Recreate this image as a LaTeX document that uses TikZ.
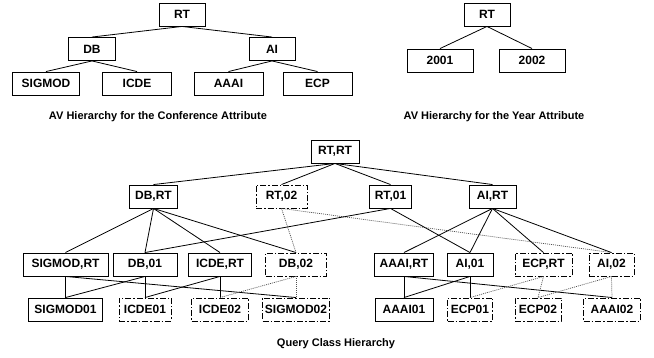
\documentclass[tikz,border=0pt]{standalone}
\usepackage{fontspec}
\setmainfont{Liberation Sans}
\usepackage{tikz}
\definecolor{dotgray}{RGB}{80,80,80}

\begin{document}
\begin{tikzpicture}[x=1pt,y=-1pt,
  box/.style={draw,line width=0.9pt,minimum height=23pt,inner sep=0pt,font=\fontsize{12}{14}\selectfont\bfseries},
  newbox/.style={box,dash pattern=on 6pt off 2pt on 1.5pt off 2pt},
  link/.style={line width=0.8pt},
  newlink/.style={line width=0.7pt,dotgray,dash pattern=on 1pt off 1pt},
  caption/.style={font=\fontsize{11}{13}\selectfont\bfseries}]
\useasboundingbox (0,0) rectangle (654,358);

\node[box,minimum width=46pt] (cRT) at (182,14.5) {RT};
\node[box,minimum width=47pt] (cDB) at (92,49) {DB};
\node[box,minimum width=46pt] (cAI) at (272,49) {AI};
\node[box,minimum width=67pt] (cSIGMOD) at (46,83.5) {SIGMOD};
\node[box,minimum width=69pt] (cICDE) at (137,83.5) {ICDE};
\node[box,minimum width=69pt] (cAAAI) at (228.5,83.5) {AAAI};
\node[box,minimum width=69pt] (cECP) at (317.5,83.5) {ECP};
\draw[link] (cRT.south) -- (cDB.north);
\draw[link] (cRT.south) -- (cAI.north);
\draw[link] (cDB.south) -- (cSIGMOD.north);
\draw[link] (cDB.south) -- (cICDE.north);
\draw[link] (cAI.south) -- (cAAAI.north);
\draw[link] (cAI.south) -- (cECP.north);
\node[caption] (ccap) at (158,117) {AV Hierarchy for the Conference Attribute};

\node[box,minimum width=46pt] (yRT) at (487,14.5) {RT};
\node[box,minimum width=66pt] (y2001) at (440,60.5) {2001};
\node[box,minimum width=66pt] (y2002) at (532,60.5) {2002};
\draw[link] (yRT.south) -- (y2001.north);
\draw[link] (yRT.south) -- (y2002.north);
\node[caption] (ycap) at (494,117) {AV Hierarchy for the Year Attribute};

\node[box,minimum width=48pt] (RTRT) at (335,151.5) {RT,RT};

\node[box,minimum width=48pt] (DBRT) at (153.5,196.5) {DB,RT};
\node[newbox,minimum width=51pt] (RT02) at (281.5,196.5) {RT,02};
\node[box,minimum width=42pt] (RT01) at (390.5,196.5) {RT,01};
\node[box,minimum width=47pt] (AIRT) at (492.5,196.5) {AI,RT};

\node[box,minimum width=85pt] (SIGMODRT) at (65.5,264.5) {SIGMOD,RT};
\node[box,minimum width=64pt] (DB01) at (145,264.5) {DB,01};
\node[box,minimum width=63pt] (ICDERT) at (220,264.5) {ICDE,RT};
\node[newbox,minimum width=61pt] (DB02) at (296,264.5) {DB,02};
\node[box,minimum width=59pt] (AAAIRT) at (404,264.5) {AAAI,RT};
\node[box,minimum width=46pt] (AI01) at (470,264.5) {AI,01};
\node[newbox,minimum width=57pt] (ECPRT) at (543.5,264.5) {ECP,RT};
\node[newbox,minimum width=45pt] (AI02) at (611.5,264.5) {AI,02};

\node[box,minimum width=74pt] (SIGMOD01) at (65.5,309.5) {SIGMOD01};
\node[newbox,minimum width=52pt] (ICDE01) at (145,309.5) {ICDE01};
\node[newbox,minimum width=57pt] (ICDE02) at (220,309.5) {ICDE02};
\node[newbox,minimum width=67pt] (SIGMOD02) at (296,309.5) {SIGMOD02};
\node[box,minimum width=58pt] (AAAI01) at (404,309.5) {AAAI01};
\node[newbox,minimum width=45pt] (ECP01) at (470,309.5) {ECP01};
\node[newbox,minimum width=46pt] (ECP02) at (538,309.5) {ECP02};
\node[newbox,minimum width=57pt] (AAAI02) at (612,309.5) {AAAI02};

\draw[link] (RTRT.south) -- (DBRT.north);
\draw[link] (RTRT.south) -- (RT02.north);
\draw[link] (RTRT.south) -- (RT01.north);
\draw[link] (RTRT.south) -- (AIRT.north);

\draw[link] (DBRT.south) -- (SIGMODRT.north);
\draw[link] (DBRT.south) -- (DB01.north);
\draw[link] (DBRT.south) -- (ICDERT.north);
\draw[link] (DBRT.south) -- (DB02.north);
\draw[newlink] (RT02.south) -- (DB02.north);
\draw[newlink] (RT02.south) -- (AI02.north);
\draw[link] (RT01.south) -- (DB01.north);
\draw[link] (RT01.south) -- (AI01.north);
\draw[link] (AIRT.south) -- (AAAIRT.north);
\draw[link] (AIRT.south) -- (AI01.north);
\draw[link] (AIRT.south) -- (ECPRT.north);
\draw[link] (AIRT.south) -- (AI02.north);

\draw[link] (SIGMODRT.south) -- (SIGMOD01.north);
\draw[link] (SIGMODRT.south) -- (SIGMOD02.north);
\draw[link] (DB01.south) -- (SIGMOD01.north);
\draw[link] (DB01.south) -- (ICDE01.north);
\draw[link] (ICDERT.south) -- (ICDE01.north);
\draw[link] (ICDERT.south) -- (ICDE02.north);
\draw[newlink] (DB02.south) -- (ICDE02.north);
\draw[newlink] (DB02.south) -- (SIGMOD02.north);

\draw[link] (AAAIRT.south) -- (AAAI01.north);
\draw[link] (AAAIRT.south) -- (AAAI02.north);
\draw[link] (AI01.south) -- (AAAI01.north);
\draw[link] (AI01.south) -- (ECP01.north);
\draw[newlink] (ECPRT.south) -- (ECP01.north);
\draw[newlink] (ECPRT.south) -- (ECP02.north);
\draw[newlink] (AI02.south) -- (ECP02.north);
\draw[newlink] (AI02.south) -- (AAAI02.north);

\node[caption] (qcap) at (336,344) {Query Class Hierarchy};
\end{tikzpicture}
\end{document}
